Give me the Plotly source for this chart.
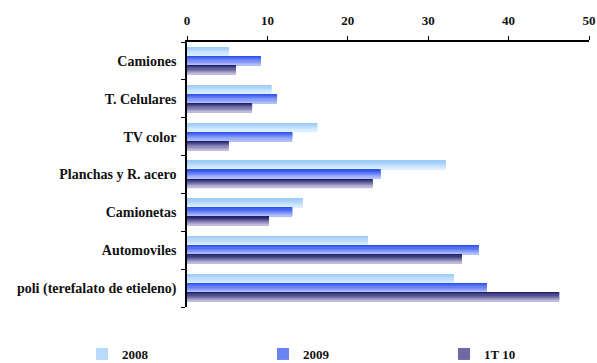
import plotly.graph_objects as go

categories = ["Camiones", "T. Celulares", "TV color", "Planchas y R. acero",
              "Camionetas", "Automoviles", "poli (terefalato de etieleno)"]
series_names = ["2008", "2009", "1T 10"]
v2008 = [5.2, 10.5, 16.2, 32.2, 14.4, 22.5, 33.2]
v2009 = [9.2, 11.2, 13.1, 24.1, 13.1, 36.3, 37.3]
v1t10 = [6.1, 8.1, 5.2, 23.1, 10.2, 34.2, 46.3]
values = [v2008, v2009, v1t10]
x_ticks = [0, 10, 20, 30, 40, 50]

grad = [((0x9c, 0xcb, 0xf7), (0xdc, 0xef, 0xfe)),
        ((0x30, 0x52, 0xef), (0xb0, 0xbe, 0xf9)),
        ((0x22, 0x22, 0x6c), (0xbe, 0xba, 0xdc))]
mid = ["#b8dbfa", "#6a84f4", "#6e6aa6"]
legend_ids = ["legend", "legend2", "legend3"]
legend_px = [82, 263, 444]

W, H = 597, 363
N = 8
bw = 0.24
start = -0.36
ypos = list(range(len(categories)))

fig = go.Figure()
for i, name in enumerate(series_names):
    c0, c1 = grad[i]
    for k in range(N):
        t = k / (N - 1)
        col = "rgb(%d,%d,%d)" % tuple(round(c0[j] + (c1[j] - c0[j]) * t) for j in range(3))
        fig.add_trace(go.Bar(
            y=ypos, x=values[i], orientation="h",
            offset=start + i * bw + k * bw / N, width=bw / N + 0.002,
            marker=dict(color=col, line=dict(width=0)),
            showlegend=False, hoverinfo="skip"))
    fig.add_trace(go.Bar(
        y=[None], x=[None], orientation="h", name=name, legend=legend_ids[i],
        marker=dict(color=mid[i], line=dict(width=0)), showlegend=True))

legend_font = dict(family="Liberation Serif", size=13, color="#111111", weight="bold")
legends = {}
for i, lid in enumerate(legend_ids):
    legends[lid] = dict(orientation="h", xref="container", yref="container",
                        x=legend_px[i] / W, y=1 - 354 / H,
                        xanchor="left", yanchor="middle", itemwidth=30,
                        bgcolor="rgba(0,0,0,0)", font=legend_font)

fig.update_layout(
    width=W, height=H,
    margin=dict(l=187, r=8, t=42, b=56),
    paper_bgcolor="white", plot_bgcolor="white",
    barmode="overlay",
    font=dict(family="Liberation Serif", size=13, color="#111111"),
    showlegend=True,
    xaxis=dict(side="top", range=[0, 50], tickvals=x_ticks,
               ticktext=[str(v) for v in x_ticks], automargin=False,
               ticklabeloverflow="allow", ticklabelstandoff=6,
               showgrid=False, zeroline=False, showline=True, linecolor="black",
               linewidth=1.5, ticks="outside", ticklen=4, tickcolor="black",
               tickfont=dict(family="Liberation Serif", size=13, weight="bold")),
    yaxis=dict(range=[6.5, -0.5], tickvals=ypos, ticktext=categories, automargin=False,
               showgrid=False, zeroline=False, showline=True, linecolor="black",
               linewidth=1.5, ticks="", ticklabelstandoff=6,
               tickfont=dict(family="Liberation Serif", size=14, weight="bold")),
    **legends,
)
fig.update_yaxes(minor=dict(tickvals=[p + 0.5 for p in [-1] + ypos], ticks="outside",
                            ticklen=4, tickcolor="black", showgrid=False))

fig.write_html("out.html", config={"displayModeBar": False},
               post_script="document.body.style.margin='0';")
